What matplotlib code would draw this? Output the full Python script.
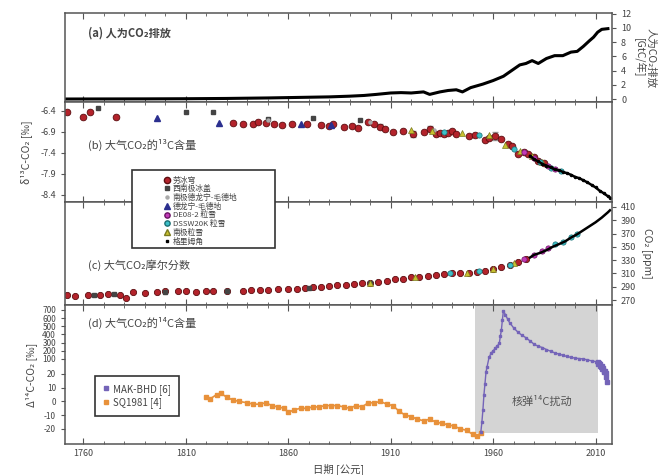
import matplotlib

matplotlib.use("Agg")
import matplotlib.pyplot as plt
import numpy as np
from matplotlib.lines import Line2D
from matplotlib.patches import Rectangle
from matplotlib.ticker import MultipleLocator, FixedLocator

plt.rcParams["font.family"] = ["Noto Sans CJK SC", "DejaVu Sans"]

# (a) fossil emissions, GtC/yr
em_years = [1751, 1770, 1790, 1810, 1830, 1850, 1860, 1870, 1880, 1890, 1897, 1903, 1910,
            1915, 1920, 1926, 1929, 1934, 1938, 1942, 1945, 1949, 1955, 1960, 1965, 1970,
            1973, 1976, 1979, 1982, 1986, 1990, 1994, 1998, 2001, 2004, 2007, 2009, 2011,
            2013, 2016]
em_vals = [0.0, 0.01, 0.02, 0.04, 0.08, 0.15, 0.2, 0.25, 0.3, 0.4, 0.5, 0.65, 0.85,
           0.9, 0.85, 1.0, 0.65, 1.0, 1.2, 1.3, 1.0, 1.6, 2.1, 2.6, 3.2, 4.2,
           4.8, 5.0, 5.4, 5.0, 5.7, 6.1, 6.1, 6.6, 6.7, 7.4, 8.2, 8.7, 9.4,
           9.8, 9.9]

# (b) d13C of CO2, per mil
lawdome_d13_years = [1752, 1760, 1763, 1776, 1833, 1838, 1843, 1845, 1849, 1853, 1857, 1862,
                     1869, 1876, 1880, 1882, 1887, 1891, 1894, 1899, 1902, 1905, 1907, 1911,
                     1916, 1921, 1926, 1929, 1932, 1934, 1936, 1938, 1940, 1942, 1948, 1951,
                     1956, 1958, 1961, 1964, 1967, 1969, 1972, 1975, 1977, 1980, 1982, 1985]
lawdome_d13 = [-6.43, -6.55, -6.43, -6.55, -6.69, -6.70, -6.70, -6.66, -6.68, -6.72, -6.74, -6.72,
               -6.72, -6.73, -6.75, -6.72, -6.77, -6.76, -6.80, -6.67, -6.70, -6.77, -6.84, -6.91,
               -6.88, -6.95, -6.91, -6.82, -6.95, -6.93, -6.95, -6.93, -6.88, -6.95, -7.00, -6.98,
               -7.10, -7.05, -7.00, -7.07, -7.18, -7.23, -7.43, -7.38, -7.43, -7.50, -7.60, -7.65]
err_years = [1905, 1921, 1929, 1961]
err_vals = [-6.77, -6.95, -6.82, -7.00]
err_size = [0.07, 0.08, 0.06, 0.09]
wais_d13_years = [1767, 1810, 1823, 1850, 1872, 1895]
wais_d13 = [-6.33, -6.43, -6.43, -6.60, -6.57, -6.62]
dml_ice_years = [1850, 1900, 1931]
dml_ice_d13 = [-6.62, -6.66, -6.85]
dml_years = [1796, 1826, 1866, 1881]
dml_d13 = [-6.57, -6.68, -6.72, -6.74]
de08_years = [1975, 1980, 1987, 1990]
de08_d13 = [-7.38, -7.52, -7.70, -7.78]
dssw_years = [1936, 1953, 1970, 1983, 1988, 1993]
dssw_d13 = [-6.90, -6.98, -7.30, -7.62, -7.75, -7.82]
spfirn_years = [1920, 1930, 1945, 1958, 1966, 1973, 1979, 1984]
spfirn_d13 = [-6.86, -6.88, -6.92, -6.98, -7.20, -7.35, -7.48, -7.62]
cg_years = [1978, 1980, 1982, 1984, 1986, 1988, 1990, 1992, 1994, 1996, 1998, 2000, 2002,
            2004, 2006, 2008, 2010, 2012, 2014, 2016, 2017]
cg_d13 = [-7.47, -7.55, -7.6, -7.66, -7.7, -7.74, -7.79, -7.81, -7.85, -7.88, -7.92, -7.97, -8.0,
          -8.05, -8.1, -8.16, -8.22, -8.3, -8.36, -8.43, -8.46]

# (c) CO2 mole fraction, ppm
lawdome_co2_years = [1752, 1756, 1762, 1768, 1772, 1778, 1781, 1784, 1790, 1796, 1800, 1806,
                     1810, 1815, 1820, 1823, 1830, 1838, 1842, 1846, 1850, 1855, 1860, 1864,
                     1868, 1872, 1876, 1880, 1884, 1888, 1892, 1896, 1900, 1904, 1908, 1912,
                     1916, 1920, 1924, 1928, 1932, 1936, 1940, 1944, 1948, 1952, 1956, 1960,
                     1964, 1968, 1972, 1976]
lawdome_co2 = [277, 276, 277, 278, 279, 278, 273, 282, 281, 282, 283, 283,
               284, 282, 283, 284, 283, 284, 285, 285, 285, 286, 287, 287,
               288, 289, 289, 291, 292, 293, 294, 295, 296, 297, 299, 301,
               302, 304, 305, 306, 307, 309, 310, 311, 311, 312, 314, 317,
               320, 323, 327, 332]
wais_co2_years = [1765, 1775, 1800, 1830, 1870, 1900]
wais_co2 = [278, 279, 282, 284, 288, 296]
dssw_co2_years = [1939, 1953, 1968, 1990, 1994, 1998, 2001]
dssw_co2 = [310, 313, 323, 354, 358, 365, 369]
de08_co2_years = [1975, 1980, 1984, 1987]
de08_co2 = [331, 338, 344, 348]
spfirn_co2_years = [1900, 1922, 1947, 1960, 1970]
spfirn_co2 = [296, 305, 311, 317, 326]
cg_co2_years = [1978, 1980, 1983, 1986, 1989, 1992, 1995, 1998, 2001, 2004, 2007, 2010, 2013,
                2016, 2017]
cg_co2 = [334, 338, 341, 345, 350, 354, 358, 364, 369, 375, 381, 387, 394, 402, 405]

# (d) D14C of CO2, per mil
sq_years = [1820, 1822, 1825, 1827, 1830, 1833, 1836, 1840, 1843, 1846, 1849, 1852, 1855, 1858,
            1860, 1863, 1866, 1869, 1872, 1875, 1878, 1881, 1884, 1887, 1890, 1893, 1896, 1899,
            1902, 1905, 1908, 1911, 1914, 1917, 1920, 1923, 1926, 1929, 1932, 1935, 1938, 1941,
            1944, 1947, 1950, 1952, 1954]
sq_vals = [3, 2, 5, 6, 3, 1, 0, -1, -2, -2, -1, -3, -4, -5,
           -8, -6, -5, -5, -4, -4, -3, -3, -3, -4, -5, -3, -4, -1,
           -1, 0, -2, -3, -7, -10, -11, -13, -14, -13, -15, -16, -17, -18,
           -20, -21, -24, -25, -23]
mak_years = [1954, 1954.5, 1955, 1955.5, 1956, 1956.5, 1957, 1958, 1959, 1960, 1961, 1962,
             1963, 1963.5, 1964, 1964.5, 1965, 1966, 1967, 1968, 1970, 1972, 1974, 1976,
             1978, 1980, 1982, 1984, 1986, 1988, 1990, 1992, 1994, 1996, 1998, 2000, 2002,
             2004, 2006, 2008, 2010]
mak_vals = [-22, -15, -6, 5, 13, 30, 57, 120, 170, 200, 230, 260,
            290, 380, 450, 580, 690, 640, 590, 545, 480, 430, 390, 360,
            320, 280, 255, 240, 215, 195, 175, 160, 145, 130, 120, 110, 105,
            100, 95, 90, 86]
mak_recent_years = [2011, 2011.3, 2011.6, 2012, 2012.3, 2012.6, 2013, 2013.3, 2013.6, 2014,
                    2014.3, 2014.6, 2015, 2015.3, 2015.6]
mak_recent_vals = [85, 75, 80, 65, 72, 55, 60, 45, 50, 38, 30, 35, 24, 18, 14]
bomb_period = (1951, 2011)
d14_ticks = [-20, -10, 0, 10, 20, 100, 200, 300, 400, 500, 600, 700]

# broken D14C axis: fine below ~20 permil, compressed above 100
_d14_vals = np.array([-1000.0, -31.0, 20.0, 100.0, 5000.0])
_d14_pos = np.array([-1330.0, 0.0, 70.0, 85.0, 485.3])


def d14_fwd(v):
    return np.interp(v, _d14_vals, _d14_pos)


def d14_inv(p):
    return np.interp(p, _d14_pos, _d14_vals)


TXT = "#444444"
EDGE = "#555555"
RED = "#b3232b"
PURPLE = "#7464b8"
ORANGE = "#e8913a"

fig = plt.figure(figsize=(6.7, 4.75), dpi=100)
left, width = 65 / 670, 547 / 670
ax_a = fig.add_axes([left, 373 / 475, width, 89 / 475])
ax_b = fig.add_axes([left, 273 / 475, width, 100 / 475])
ax_c = fig.add_axes([left, 170 / 475, width, 103 / 475])
ax_d = fig.add_axes([left, 31 / 475, width, 139 / 475])

for ax in (ax_a, ax_b, ax_c, ax_d):
    ax.set_xlim(1751, 2018)
    ax.xaxis.set_major_locator(FixedLocator([1760, 1810, 1860, 1910, 1960, 2010]))
    ax.xaxis.set_minor_locator(MultipleLocator(10))
    ax.tick_params(axis="x", which="both", direction="in", top=True, bottom=True,
                   labelbottom=False, color=EDGE)
    ax.tick_params(axis="x", which="major", length=4)
    ax.tick_params(axis="x", which="minor", length=2)
    ax.tick_params(axis="y", which="both", labelsize=6.5, labelcolor=TXT, color=EDGE, length=3)
    for sp in ax.spines.values():
        sp.set_color(EDGE)
        sp.set_linewidth(1.1)

# (a)
ax_a.plot(em_years, em_vals, color="black", lw=2.2)
ax_a.set_ylim(-0.42, 12.1)
ax_a.yaxis.set_major_locator(MultipleLocator(2))
ax_a.yaxis.tick_right()
ax_a.yaxis.set_label_position("right")
ax_a.set_ylabel("人为CO₂排放\n[GtC/年]", rotation=-90, labelpad=18, fontsize=7.5,
                color=TXT, linespacing=1.1)
ax_a.text(0.042, 0.775, "(a) 人为CO₂排放", transform=ax_a.transAxes, fontsize=8,
          color=TXT, va="center", fontweight="bold")

# (b)
mk = dict(linestyle="none")
ax_b.errorbar(err_years, err_vals, yerr=err_size, fmt="none", ecolor="#999999", elinewidth=0.8,
              capsize=2, zorder=1)
ax_b.plot(lawdome_d13_years, lawdome_d13, "o", color=RED, mec="#5c0d10", ms=4.8, mew=0.6, **mk)
ax_b.plot(wais_d13_years, wais_d13, "s", color="#444444", ms=2.2, **mk)
ax_b.plot(dml_ice_years, dml_ice_d13, "o", color="#aaaaaa", ms=2.2, **mk)
ax_b.plot(dml_years, dml_d13, "^", color="#2b2f8f", ms=4, **mk)
ax_b.plot(spfirn_years, spfirn_d13, "^", color="#c8c030", mec="#7a7a20", ms=4, mew=0.5, **mk)
ax_b.plot(dssw_years, dssw_d13, "o", color="#3cc0c8", mec="#1b6f74", ms=3.8, mew=0.5, **mk)
ax_b.plot(de08_years, de08_d13, "o", color="#c23ab8", mec="#6a1464", ms=3.8, mew=0.5, **mk)
ax_b.plot(cg_years, cg_d13, color="black", lw=1.8, marker="o", ms=1.5)
ax_b.set_ylim(-8.567, -6.186)
ax_b.set_yticks([-6.4, -6.9, -7.4, -7.9, -8.4])
ax_b.set_yticklabels(["-6.4", "-6.9", "-7.4", "-7.9", "-8.4"])
ax_b.set_ylabel("δ¹³C-CO₂ [‰]", fontsize=7.5, color=TXT, labelpad=6)
ax_b.text(0.042, 0.57, "(b) 大气CO₂的¹³C含量", transform=ax_b.transAxes, fontsize=8,
          color=TXT, va="center")

# (c)
ax_c.plot(lawdome_co2_years, lawdome_co2, "o", color=RED, mec="#5c0d10", ms=4.5, mew=0.6, **mk)
ax_c.plot(wais_co2_years, wais_co2, "s", color="#444444", ms=2.2, **mk)
ax_c.plot(spfirn_co2_years, spfirn_co2, "^", color="#c8c030", mec="#7a7a20", ms=3.8, mew=0.5, **mk)
ax_c.plot(dssw_co2_years, dssw_co2, "o", color="#3cc0c8", mec="#1b6f74", ms=3.8, mew=0.5, **mk)
ax_c.plot(de08_co2_years, de08_co2, "o", color="#c23ab8", mec="#6a1464", ms=3.8, mew=0.5, **mk)
ax_c.plot(cg_co2_years, cg_co2, color="black", lw=1.8)
ax_c.set_ylim(262.5, 417.5)
ax_c.set_yticks(np.arange(270, 411, 20))
ax_c.yaxis.tick_right()
ax_c.yaxis.set_label_position("right")
ax_c.set_ylabel("CO₂ [ppm]", rotation=-90, labelpad=12, fontsize=7.5, color=TXT)
ax_c.text(0.042, 0.39, "(c) 大气CO₂摩尔分数", transform=ax_c.transAxes, fontsize=8,
          color=TXT, va="center")

# (d)
ax_d.set_yscale("function", functions=(d14_fwd, d14_inv))
ax_d.set_ylim(-31, 760)
ax_d.add_patch(Rectangle((bomb_period[0], -23), bomb_period[1] - bomb_period[0], 800,
                         facecolor="#d4d4d4", edgecolor="none", zorder=0))
ax_d.plot(sq_years, sq_vals, color=ORANGE, lw=1.2, marker="s", ms=2.2)
ax_d.plot(mak_years, mak_vals, color=PURPLE, lw=1.0, marker="s", ms=1.6)
ax_d.plot(mak_recent_years, mak_recent_vals, color=PURPLE, lw=0, marker="s", ms=3.2)
ax_d.yaxis.set_major_locator(FixedLocator(d14_ticks))
ax_d.yaxis.set_minor_locator(FixedLocator([]))
ax_d.set_yticklabels([str(t) for t in d14_ticks])
ax_d.tick_params(axis="y", labelsize=6)
ax_d.tick_params(axis="x", which="major", labelbottom=True, labelsize=6.5, labelcolor=TXT)
ax_d.set_ylabel("Δ¹⁴C-CO₂ [‰]", fontsize=7.5, color=TXT, labelpad=4)
ax_d.set_xlabel("日期 [公元]", fontsize=7.5, color=TXT, labelpad=4)
ax_d.text(0.042, 0.87, "(d) 大气CO₂的¹⁴C含量", transform=ax_d.transAxes, fontsize=8,
          color=TXT, va="center")
ax_d.text(1984, 0, "核弹¹⁴C扰动", fontsize=8, color="#555555", ha="center", va="center")
handles_d = [Line2D([], [], color=PURPLE, marker="s", ms=3, lw=0),
             Line2D([], [], color=ORANGE, marker="s", ms=3, lw=0)]
leg_d = ax_d.legend(handles_d, ["MAK-BHD [6]", "SQ1981 [4]"], loc="upper left",
                    bbox_to_anchor=(90 / 670, 1 - 371 / 475), bbox_transform=fig.transFigure,
                    fontsize=7, handlelength=0.6, handletextpad=0.5, borderpad=0.8,
                    labelspacing=0.3, fancybox=False, framealpha=1, edgecolor="#333333")
leg_d.get_frame().set_linewidth(1.2)
for t in leg_d.get_texts():
    t.set_color(TXT)

# shared legend for the ice core / firn / station records, sitting across (b) and (c)
fig.add_artist(Rectangle((132 / 670, 1 - 248 / 475), 143 / 670, 78 / 475,
                         transform=fig.transFigure, facecolor="white", edgecolor="#333333",
                         linewidth=1.2, zorder=4))
leg_handles = [
    Line2D([], [], marker="o", color=RED, mec="#5c0d10", ms=4.5, lw=0),
    Line2D([], [], marker="s", color="#444444", ms=2.2, lw=0),
    Line2D([], [], marker="o", color="#aaaaaa", ms=2.2, lw=0),
    Line2D([], [], marker="^", color="#2b2f8f", ms=4, lw=0),
    Line2D([], [], marker="o", color="#c23ab8", mec="#6a1464", ms=3.8, lw=0),
    Line2D([], [], marker="o", color="#3cc0c8", mec="#1b6f74", ms=3.8, lw=0),
    Line2D([], [], marker="^", color="#c8c030", mec="#7a7a20", ms=4, lw=0),
    Line2D([], [], marker="s", color="black", ms=1.8, lw=0),
]
leg_labels = ["劳冰穹", "西南极冰盖", "南极德龙宁-毛德地", "德龙宁-毛德地",
              "DE08-2 粒雪", "DSSW20K 粒雪", "南极粒雪", "格里姆角"]
leg_b = fig.legend(leg_handles, leg_labels, loc="upper left",
                   bbox_to_anchor=(158 / 670, 1 - 171 / 475), frameon=False, fontsize=5.6,
                   handlelength=0.8, handletextpad=0.4, labelspacing=0.08, borderpad=0.2)
leg_b.set_zorder(5)
for t in leg_b.get_texts():
    t.set_color(TXT)

fig.savefig("out.png", dpi=100)
